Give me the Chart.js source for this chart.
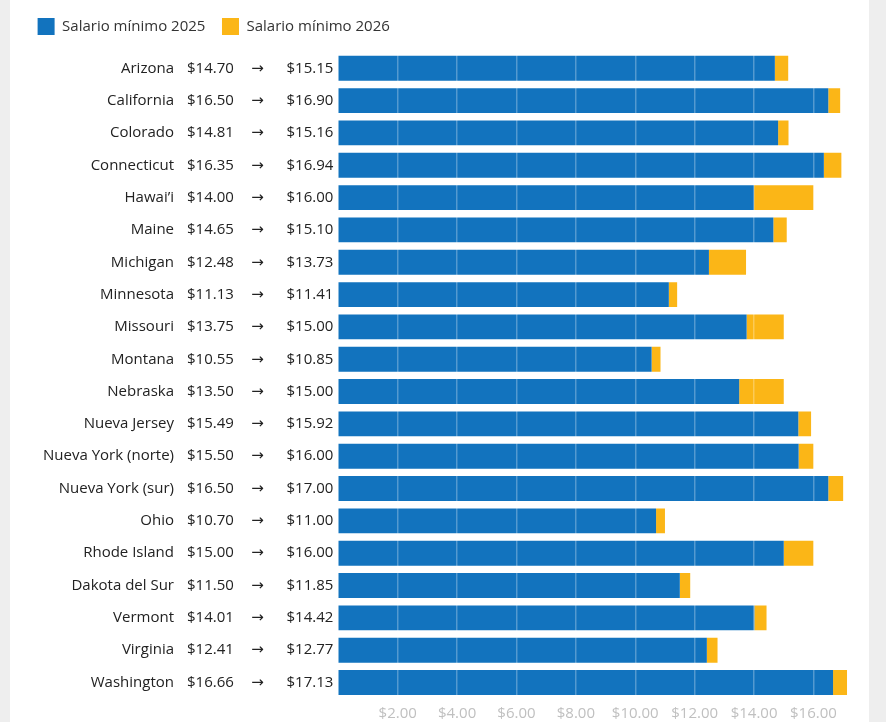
<!DOCTYPE html>
<html>
<head>
<meta charset="utf-8">
<script src="https://cdn.jsdelivr.net/npm/chart.js@4/dist/chart.umd.min.js"></script>
<style>
  html, body { margin: 0; padding: 0; background: #eeeeee; }
  #card { position: absolute; left: 10px; top: 0; width: 859px; height: 722px; background: #ffffff; }
  canvas { display: block; }
</style>
</head>
<body>
<div id="card"><canvas id="c" width="859" height="722"></canvas></div>
<script>
const states = ["Arizona", "California", "Colorado", "Connecticut", "Hawai’i", "Maine", "Michigan", "Minnesota", "Missouri", "Montana", "Nebraska", "Nueva Jersey", "Nueva York (norte)", "Nueva York (sur)", "Ohio", "Rhode Island", "Dakota del Sur", "Vermont", "Virginia", "Washington"];
const wage2025 = [14.70, 16.50, 14.81, 16.35, 14.00, 14.65, 12.48, 11.13, 13.75, 10.55, 13.50, 15.49, 15.50, 16.50, 10.70, 15.00, 11.50, 14.01, 12.41, 16.66];
const wage2026 = [15.15, 16.90, 15.16, 16.94, 16.00, 15.10, 13.73, 11.41, 15.00, 10.85, 15.00, 15.92, 16.00, 17.00, 11.00, 16.00, 11.85, 14.42, 12.77, 17.13];
const xTickValues = [2, 4, 6, 8, 10, 12, 14, 16];
const seriesNames = ["Salario mínimo 2025", "Salario mínimo 2026"];

const increase = wage2026.map((v, i) => +(v - wage2025[i]).toFixed(2));
const BLUE = '#1273be';
const YELLOW = '#fbb617';
const FONT = '"Open Sans", "DejaVu Sans", sans-serif';

const legendGap = {
  id: 'legendGap',
  beforeInit(chart) {
    if (!chart.legend) return;
    const orig = chart.legend.fit;
    chart.legend.fit = function () {
      orig.bind(chart.legend)();
      this.height += 7;
    };
  }
};

const rowLabels = {
  id: 'rowLabels',
  afterDraw(chart) {
    const ctx = chart.ctx;
    const y = chart.scales.y;
    ctx.save();
    ctx.font = '15px ' + FONT;
    ctx.fillStyle = '#222222';
    ctx.textBaseline = 'middle';
    states.forEach((name, i) => {
      const py = y.getPixelForValue(i);
      ctx.textAlign = 'right';
      ctx.fillText(name, 164, py);
      ctx.textAlign = 'left';
      ctx.fillText('$' + wage2025[i].toFixed(2), 177, py);
      ctx.textAlign = 'center';
      ctx.fillText('→', 247.5, py);
      ctx.textAlign = 'left';
      ctx.fillText('$' + wage2026[i].toFixed(2), 276.5, py);
    });
    ctx.restore();
  }
};

new Chart(document.getElementById('c'), {
  type: 'bar',
  data: {
    labels: states,
    datasets: [
      { label: seriesNames[0], data: wage2025, backgroundColor: BLUE, borderWidth: 0, barPercentage: 0.77, categoryPercentage: 1 },
      { label: seriesNames[1], data: increase, backgroundColor: YELLOW, borderWidth: 0, barPercentage: 0.77, categoryPercentage: 1 }
    ]
  },
  options: {
    indexAxis: 'y',
    responsive: false,
    animation: false,
    layout: { padding: { left: 11, right: 11, top: 1.5, bottom: 0 } },
    plugins: {
      tooltip: { enabled: false },
      legend: {
        position: 'top',
        align: 'start',
        labels: {
          boxWidth: 17,
          boxHeight: 17,
          padding: 16.6,
          color: '#333333',
          font: { family: FONT, size: 15 }
        }
      }
    },
    scales: {
      x: {
        type: 'linear',
        stacked: true,
        min: 0,
        max: 17.5,
        grid: {
          z: 1,
          drawTicks: false,
          color: (c) => (c.tick && c.tick.value === 0) ? 'rgba(0,0,0,0)' : 'rgba(255,255,255,0.28)',
          lineWidth: 1.5
        },
        border: { display: false },
        afterBuildTicks: (scale) => { scale.ticks = xTickValues.map(v => ({ value: v })); },
        ticks: {
          padding: 6,
          color: '#c0c0c0',
          font: { family: FONT, size: 15 },
          callback: (v) => '$' + Number(v).toFixed(2)
        },
        afterFit: (scale) => { scale.height = 23.3; }
      },
      y: {
        type: 'category',
        stacked: true,
        grid: { display: false },
        border: { display: false },
        ticks: { display: false },
        afterFit: (scale) => { scale.width = 317.3; }
      }
    }
  },
  plugins: [legendGap, rowLabels]
});
</script>
</body>
</html>
